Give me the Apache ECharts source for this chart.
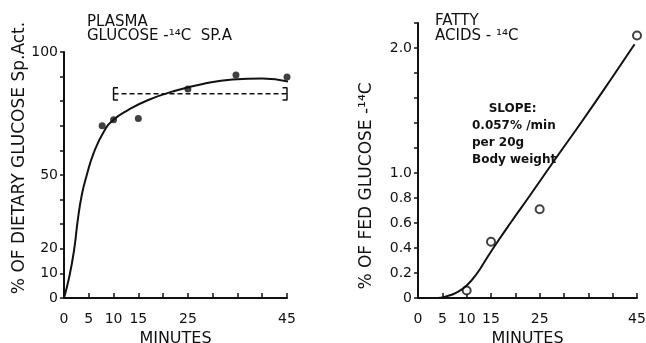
<!DOCTYPE html>
<html>
<head>
<meta charset="utf-8">
<script src="https://cdn.jsdelivr.net/npm/echarts@6/dist/echarts.min.js"></script>
<style>
  html, body { margin: 0; padding: 0; background: #fff; }
  #main { width: 646px; height: 343px; }
</style>
</head>
<body>
<div id="main"></div>
<script>
// left panel: plasma glucose-14C specific activity
var plasmaPoints = [[7.7, 70], [10, 72.5], [15, 73], [25, 85], [34.7, 90.6], [45, 89.8]];
var plasmaCurve = [[0, 0], [1, 8], [2, 19], [2.8, 32], [3.6, 42], [4.6, 50], [6, 59], [8, 67.5],
  [10, 72.5], [13, 76.5], [17, 80.5], [22, 84], [28, 87], [34, 88.8], [40, 89.2], [45.3, 88]];
var plateau = [[10, 83], [45, 83]];
var bracketL = [[10.9, 85.5], [10, 85.5], [10, 80.5], [10.9, 80.5]];
var bracketR = [[44.1, 85.5], [45, 85.5], [45, 80.5], [44.1, 80.5]];
var leftYLabels = [0, 10, 20, 50, 100];

// right panel: fatty acids-14C
var fattyPoints = [[10, 0.06], [15, 0.45], [25, 0.71], [45, 2.1]];
var fattyCurve = [[0, 0], [4, 0], [6, 0.015], [8, 0.045], [10, 0.1], [12, 0.19], [14, 0.31],
  [16, 0.43], [19, 0.6], [23, 0.82], [28, 1.1], [34, 1.43], [40, 1.77], [44.5, 2.03]];
var rightYLabels = [0, 0.2, 0.4, 0.6, 0.8, 1.0, 2.0];

var xLabels = [0, 5, 10, 15, 25, 45];

var ink = '#111';
var font = 'DejaVu Sans';

function hasVal(list, v) {
  for (var i = 0; i < list.length; i++) {
    if (Math.abs(list[i] - v) < 1e-6) return true;
  }
  return false;
}

function xAxisOpt(idx) {
  return {
    gridIndex: idx, type: 'value', min: 0, max: 45, interval: 5,
    name: 'MINUTES', nameLocation: 'middle', nameGap: 32,
    nameTextStyle: { color: ink, fontFamily: font, fontSize: 16 },
    axisLine: { lineStyle: { color: ink, width: 2 } },
    axisTick: { inside: true, length: 5, lineStyle: { color: ink, width: 1.5 } },
    splitLine: { show: false },
    axisLabel: {
      color: ink, fontFamily: font, fontSize: 14, margin: 14,
      formatter: function (v) { return hasVal(xLabels, v) ? String(v) : ''; }
    }
  };
}

var myChart = echarts.init(document.getElementById('main'));
var option = {
  backgroundColor: '#fff',
  animation: false,
  grid: [
    { left: 64, top: 52, width: 223, height: 246, outerBoundsMode: 'none' },
    { left: 418, top: 23, width: 219, height: 275, outerBoundsMode: 'none' }
  ],
  xAxis: [xAxisOpt(0), xAxisOpt(1)],
  yAxis: [
    {
      gridIndex: 0, type: 'value', min: 0, max: 100, interval: 10,
      axisLine: { show: true, lineStyle: { color: ink, width: 2 } },
      axisTick: { show: true, length: 4, lineStyle: { color: ink, width: 1.5 } },
      splitLine: { show: false },
      axisLabel: {
        color: ink, fontFamily: font, fontSize: 14, margin: 6,
        formatter: function (v) { return hasVal(leftYLabels, v) ? String(v) : ''; }
      }
    },
    {
      gridIndex: 1, type: 'value', min: 0, max: 2.2, interval: 0.2,
      axisLine: { show: true, lineStyle: { color: ink, width: 2 } },
      axisTick: { show: true, length: 4, lineStyle: { color: ink, width: 1.5 } },
      splitLine: { show: false },
      axisLabel: {
        color: ink, fontFamily: font, fontSize: 14, margin: 6,
        formatter: function (v) {
          if (!hasVal(rightYLabels, v)) return '';
          return Math.abs(v) < 1e-6 ? '0' : v.toFixed(1);
        }
      }
    }
  ],
  graphic: [
    { type: 'text', left: 87, top: 15, style: { text: 'PLASMA\nGLUCOSE -¹⁴C  SP.A', fill: ink, font: '15px "DejaVu Sans"', lineHeight: 14 } },
    { type: 'text', x: 20, y: 158, rotation: Math.PI / 2, style: { text: '% OF DIETARY GLUCOSE Sp.Act.', fill: ink, font: '17px "DejaVu Sans"', align: 'center', verticalAlign: 'middle' } },
    { type: 'text', left: 435, top: 14, style: { text: 'FATTY\nACIDS - ¹⁴C', fill: ink, font: '15px "DejaVu Sans"', lineHeight: 15 } },
    { type: 'text', x: 367, y: 186, rotation: Math.PI / 2, style: { text: '% OF FED GLUCOSE -¹⁴C', fill: ink, font: '17px "DejaVu Sans"', align: 'center', verticalAlign: 'middle' } },
    { type: 'text', left: 472, top: 100, style: { text: '    SLOPE:\n0.057% /min\nper 20g\nBody weight', fill: ink, font: 'bold 12px "DejaVu Sans"', lineHeight: 17 } }
  ],
  series: [
    { type: 'line', xAxisIndex: 0, yAxisIndex: 0, data: plasmaCurve, smooth: 0.5, showSymbol: false, clip: false,
      lineStyle: { color: ink, width: 2 } },
    { type: 'line', xAxisIndex: 0, yAxisIndex: 0, data: plateau, showSymbol: false,
      lineStyle: { color: ink, width: 1.5, type: [5, 3] } },
    { type: 'line', xAxisIndex: 0, yAxisIndex: 0, data: bracketL, showSymbol: false,
      lineStyle: { color: ink, width: 1.5 } },
    { type: 'line', xAxisIndex: 0, yAxisIndex: 0, data: bracketR, showSymbol: false,
      lineStyle: { color: ink, width: 1.5 } },
    { type: 'scatter', xAxisIndex: 0, yAxisIndex: 0, data: plasmaPoints, symbolSize: 7, clip: false,
      itemStyle: { color: ink } },
    { type: 'line', xAxisIndex: 1, yAxisIndex: 1, data: fattyCurve, smooth: 0.5, showSymbol: false, clip: false,
      lineStyle: { color: ink, width: 2 } },
    { type: 'scatter', xAxisIndex: 1, yAxisIndex: 1, data: fattyPoints, symbolSize: 8, clip: false,
      itemStyle: { color: '#fff', borderColor: ink, borderWidth: 2 } }
  ]
};
myChart.setOption(option);
window.onresize = myChart.resize;
</script>
</body>
</html>
